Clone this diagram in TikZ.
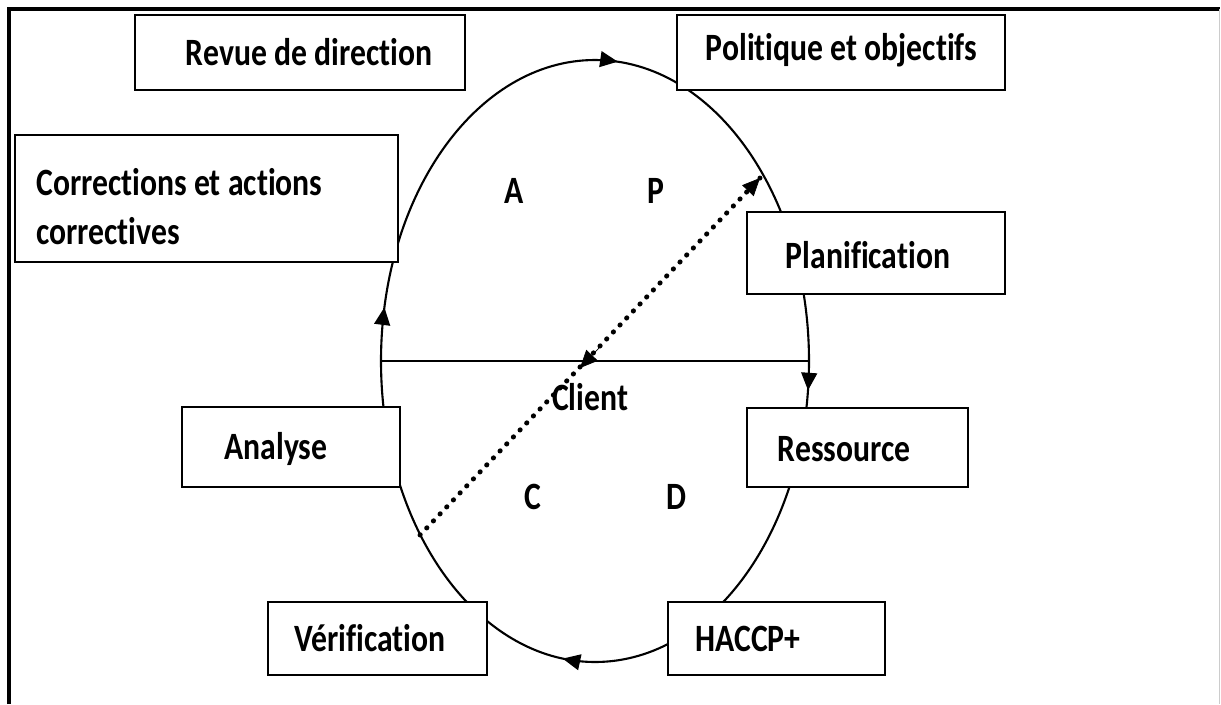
\documentclass[tikz,border=0pt]{standalone}
\usepackage{fontspec}
\setmainfont{Carlito}[FakeStretch=0.82,Ligatures=NoCommon]
\usetikzlibrary{arrows.meta,decorations.markings,calc}
\begin{document}
\begin{tikzpicture}[x=0.02cm,y=-0.02cm,
  lbl/.style={font=\fontsize{22}{28}\selectfont\bfseries,inner sep=0pt},
  box/.style={draw,line width=1.1pt,fill=white,inner sep=0pt},
  tip/.style={-{Triangle[length=10pt,width=9pt]}},
  cycle/.style={line width=1.2pt,postaction={decorate},
    decoration={markings,
      mark=at position 0.018 with {\arrow{Triangle[length=10pt,width=9pt]}},
      mark=at position 0.27 with {\arrow{Triangle[length=10pt,width=9pt]}},
      mark=at position 0.533 with {\arrow{Triangle[length=10pt,width=9pt]}},
      mark=at position 0.764 with {\arrow{Triangle[length=10pt,width=9pt]}}}},
  dots/.style={line width=2.8pt,line cap=round,dash pattern=on 0.2pt off 5.3pt}]
\useasboundingbox (0,0) rectangle (1221,704);
% outer frame (open at the bottom)
\draw[line width=2.3pt] (9,704) -- (9,9) -- (1220,9);
\draw[gray!40,line width=0.6pt] (1219.5,9) -- (1219.5,704);
% PDCA wheel
\coordinate (c) at (595,361);
\draw[cycle] (c) ellipse [x radius=214, y radius=301];
\coordinate (mw) at (381,361);
\coordinate (me) at (809,361);
\draw[line width=1.2pt] (mw) -- (me);
% quadrant letters and centre
\node[lbl] (qa) at (514,191) {A};
\node[lbl] (qp) at (656,191) {P};
\node[lbl] (qc) at (533,497) {C};
\node[lbl] (qd) at (676,497) {D};
\node[lbl] (client) at (590,397) {Client};
% dotted diagonal, arrowheads at the top end and at the centre
\coordinate (dlow) at (420,535);
\coordinate (dhigh) at (760,178);
\coordinate (dmid) at (580,368);
\draw[dots] (dlow) -- (dhigh);
\draw[tip] ($(dhigh)!0.04!(dlow)$) -- (dhigh);
\draw[tip] ($(dmid)!0.12!(dhigh)$) -- (dmid);
% boxes
\node[box,minimum width=6.6cm,minimum height=1.5cm] (revue) at (300,52.5) {};
\node[box,minimum width=6.56cm,minimum height=1.5cm] (politique) at (841,52.5) {};
\node[box,minimum width=7.66cm,minimum height=2.54cm] (corr) at (206.5,198.5) {};
\node[box,minimum width=5.16cm,minimum height=1.64cm] (plan) at (876,253) {};
\node[box,minimum width=4.36cm,minimum height=1.6cm] (analyse) at (291,447) {};
\node[box,minimum width=4.42cm,minimum height=1.58cm] (ress) at (857.5,447.5) {};
\node[box,minimum width=4.38cm,minimum height=1.46cm] (verif) at (377.5,638.5) {};
\node[box,minimum width=4.34cm,minimum height=1.46cm] (haccp) at (776.5,638.5) {};
% box texts
\node[lbl] (trevue) at ([xshift=0.18cm]revue.center) {Revue de direction};
\node[lbl] (tpol) at ([xshift=0.01cm,yshift=0.04cm]politique.center) {Politique et objectifs};
\node[lbl,align=left,anchor=west] (tcorr) at ([xshift=0.44cm,yshift=-0.16cm]corr.west) {Corrections et actions\\correctives};
\node[lbl] (tplan) at ([xshift=-0.16cm,yshift=-0.04cm]plan.center) {Planification};
\node[lbl] (tana) at ([xshift=-0.3cm,yshift=-0.04cm]analyse.center) {Analyse};
\node[lbl] (tress) at ([xshift=-0.27cm,yshift=-0.03cm]ress.center) {Ressource};
\node[lbl] (tverif) at ([xshift=-0.15cm]verif.center) {Vérification};
\node[lbl] (thaccp) at ([xshift=-0.57cm]haccp.center) {HACCP+};
\end{tikzpicture}
\end{document}
